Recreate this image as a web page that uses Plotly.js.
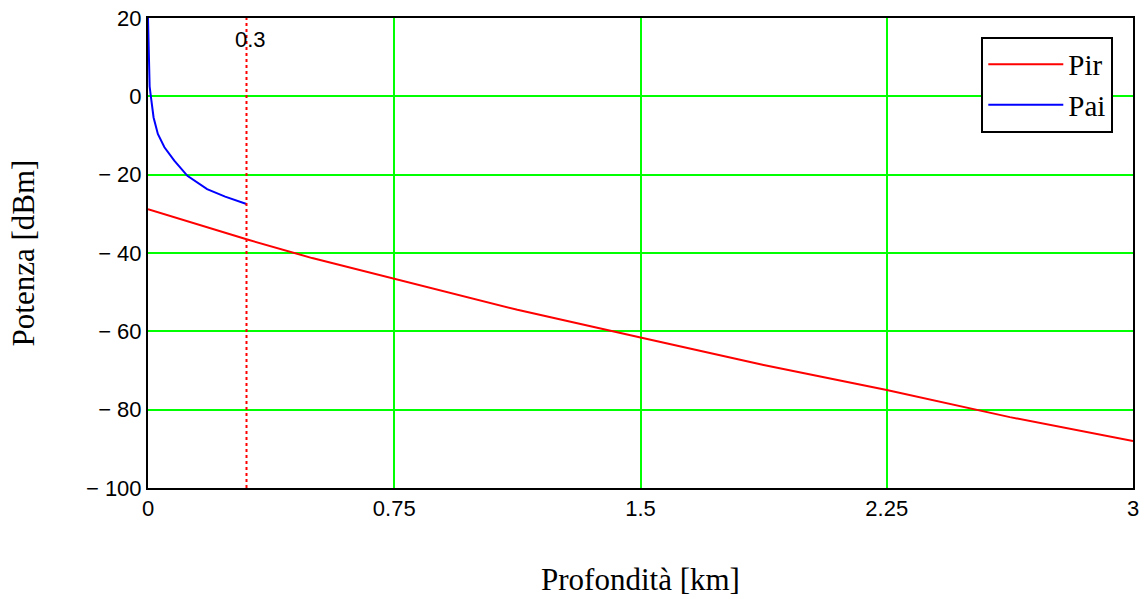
<!DOCTYPE html>
<html>
<head>
<meta charset="utf-8">
<script src="https://cdn.plot.ly/plotly-3.0.1.min.js"></script>
<style>html,body{margin:0;padding:0;background:#fff;}#chart{width:1146px;height:599px;}</style>
</head>
<body>
<div id="chart"></div>
<script>
// Data
const pirDepth = [0, 0.15, 0.3, 0.5, 0.75, 1.125, 1.5, 1.875, 2.25, 2.625, 3];
const pirPower = [-28.8, -32.7, -36.5, -41.3, -46.6, -54.5, -61.6, -68.6, -75.0, -81.9, -88.0];

const paiDepth = [0, 0.001, 0.002, 0.003, 0.005, 0.009, 0.017, 0.03, 0.05, 0.08, 0.12, 0.18, 0.235, 0.3];
const paiPower = [20, 14, 11.5, 6, 2.5, -0.2, -5.4, -9.6, -13, -16.4, -20.3, -23.7, -25.6, -27.5];

const markerDepth = 0.3;
const markerLabel = "0.3";

const xTickVals = [0, 0.75, 1.5, 2.25, 3];
const xTickText = ["0", "0.75", "1.5", "2.25", "3"];
const yTickVals = [20, 0, -20, -40, -60, -80, -100];
const yTickText = ["20", "0", "\u2212 20", "\u2212 40", "\u2212 60", "\u2212 80", "\u2212 100"];

const tickFont = {family: "Liberation Sans, Arial, sans-serif", size: 22, color: "#000"};
const serif = "Liberation Serif, Times New Roman, serif";

const traces = [
  {x: pirDepth, y: pirPower, name: "Pir", type: "scatter", mode: "lines",
   line: {color: "#ff0000", width: 2}},
  {x: paiDepth, y: paiPower, name: "Pai", type: "scatter", mode: "lines",
   line: {color: "#0000ff", width: 2}}
];

const layout = {
  width: 1146, height: 599,
  margin: {l: 148, r: 13, t: 18, b: 111},
  paper_bgcolor: "#fff", plot_bgcolor: "#fff",
  showlegend: true,
  legend: {x: 0.98, xanchor: "right", y: 0.96, yanchor: "top",
           bgcolor: "#fff", bordercolor: "#000", borderwidth: 2, itemwidth: 75,
           font: {family: serif, size: 29, color: "#000"}},
  xaxis: {range: [0, 3], tickvals: xTickVals, ticktext: xTickText,
          showgrid: true, gridcolor: "#00ff00", gridwidth: 2, zeroline: false,
          showline: true, linecolor: "#000", linewidth: 2, mirror: true,
          ticks: "", tickfont: tickFont,
          title: {text: "Profondità [km]", font: {family: serif, size: 31, color: "#000"}, standoff: 48}},
  yaxis: {range: [-100, 20], tickvals: yTickVals, ticktext: yTickText,
          showgrid: true, gridcolor: "#00ff00", gridwidth: 2, zeroline: false,
          showline: true, linecolor: "#000", linewidth: 2, mirror: true,
          ticks: "", tickfont: tickFont,
          title: {text: "Potenza [dBm]", font: {family: serif, size: 31, color: "#000"}, standoff: 42}},
  shapes: [{type: "line", xref: "x", yref: "paper", x0: markerDepth, x1: markerDepth, y0: 0, y1: 1,
            line: {color: "#ff0000", width: 2, dash: "dot"}}],
  annotations: [{xref: "x", yref: "paper", x: markerDepth, y: 0.955, text: markerLabel,
                 showarrow: false, xanchor: "center", yanchor: "middle", xshift: 4,
                 font: {family: "Liberation Sans, Arial, sans-serif", size: 22, color: "#000"}}]
};

Plotly.newPlot("chart", traces, layout, {displayModeBar: false, staticPlot: true});
</script>
</body>
</html>
